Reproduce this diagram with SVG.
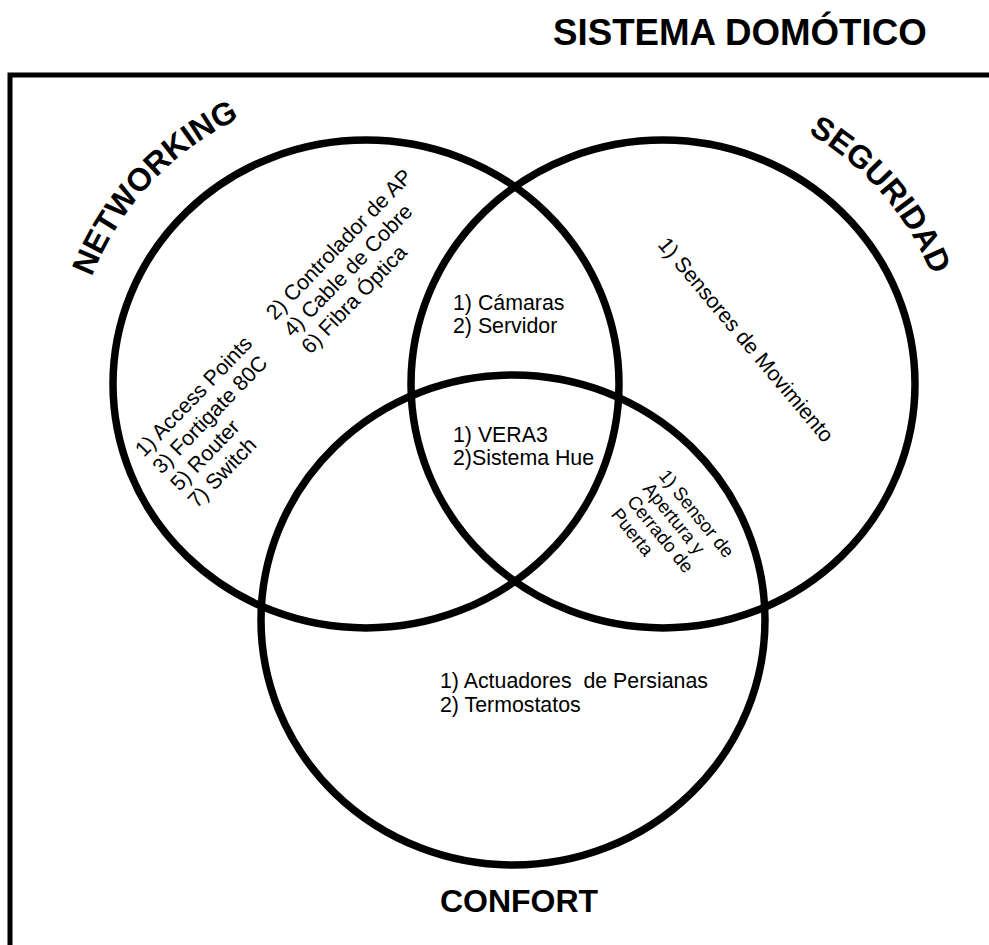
<svg xmlns="http://www.w3.org/2000/svg" width="989" height="945" viewBox="0 0 989 945">
<style>
.c{fill:none;stroke:#000;stroke-width:7.5}
.t{font-family:"Liberation Sans",Arial,sans-serif;font-size:21.33px;fill:#000}
.s{font-family:"Liberation Sans",Arial,sans-serif;font-size:18.67px;fill:#000}
.b{font-family:"Liberation Sans",Arial,sans-serif;font-weight:bold;fill:#000}
</style>
<defs>
<path id="arcN" d="M91.8,277.1 A294,294 0 0 1 417.1,94.5"/>
<path id="arcS" d="M808,133 A290,290 0 0 1 948.6,333.6"/>
</defs>
<rect width="989" height="945" fill="#fff"/>
<path d="M10,945 V75 H989" fill="none" stroke="#000" stroke-width="5"/>
<text class="b" x="553" y="45" font-size="36.7">SISTEMA DOMÓTICO</text>
<g id="networking">
<ellipse class="c" cx="366" cy="384" rx="253" ry="244"/>
<text class="b" font-size="32"><textPath href="#arcN">NETWORKING</textPath></text>
<text class="t" transform="translate(144,458) rotate(-46)"><tspan x="0" y="0">1) Access Points</tspan><tspan x="0" dy="24.5">3) Fortigate 80C</tspan><tspan x="0" dy="24.5">5) Router</tspan><tspan x="0" dy="24.5">7) Switch</tspan></text>
<text class="t" transform="translate(275,321) rotate(-46)"><tspan x="0" y="0">2) Controlador de AP</tspan><tspan x="0" dy="24.5">4) Cable de Cobre</tspan><tspan x="0" dy="24.5">6) Fibra Óptica</tspan></text>
</g>
<g id="seguridad">
<ellipse class="c" cx="663" cy="384" rx="252" ry="244"/>
<text class="b" font-size="32"><textPath href="#arcS">SEGURIDAD</textPath></text>
<text class="t" transform="translate(657,245) rotate(50)">1) Sensores de Movimiento</text>
</g>
<g id="confort">
<ellipse class="c" cx="513" cy="620" rx="252" ry="245"/>
<text class="b" x="519" y="912" font-size="32" text-anchor="middle">CONFORT</text>
<text class="t" xml:space="preserve"><tspan x="440" y="688">1) Actuadores  de Persianas</tspan><tspan x="440" y="712">2) Termostatos</tspan></text>
</g>
<g id="net-seg">
<text class="t"><tspan x="453" y="310">1) Cámaras</tspan><tspan x="453" y="333">2) Servidor</tspan></text>
</g>
<g id="centro">
<text class="t"><tspan x="453" y="442">1) VERA3</tspan><tspan x="453" y="465">2)Sistema Hue</tspan></text>
</g>
<g id="seg-conf">
<text class="s" transform="translate(658,476) rotate(51)"><tspan x="0" y="0">1) Sensor de</tspan><tspan x="0" dy="20.5">Apertura y</tspan><tspan x="0" dy="20.5">Cerrado de</tspan><tspan x="0" dy="20.5">Puerta</tspan></text>
</g>
<g id="connectors"></g>
</svg>
